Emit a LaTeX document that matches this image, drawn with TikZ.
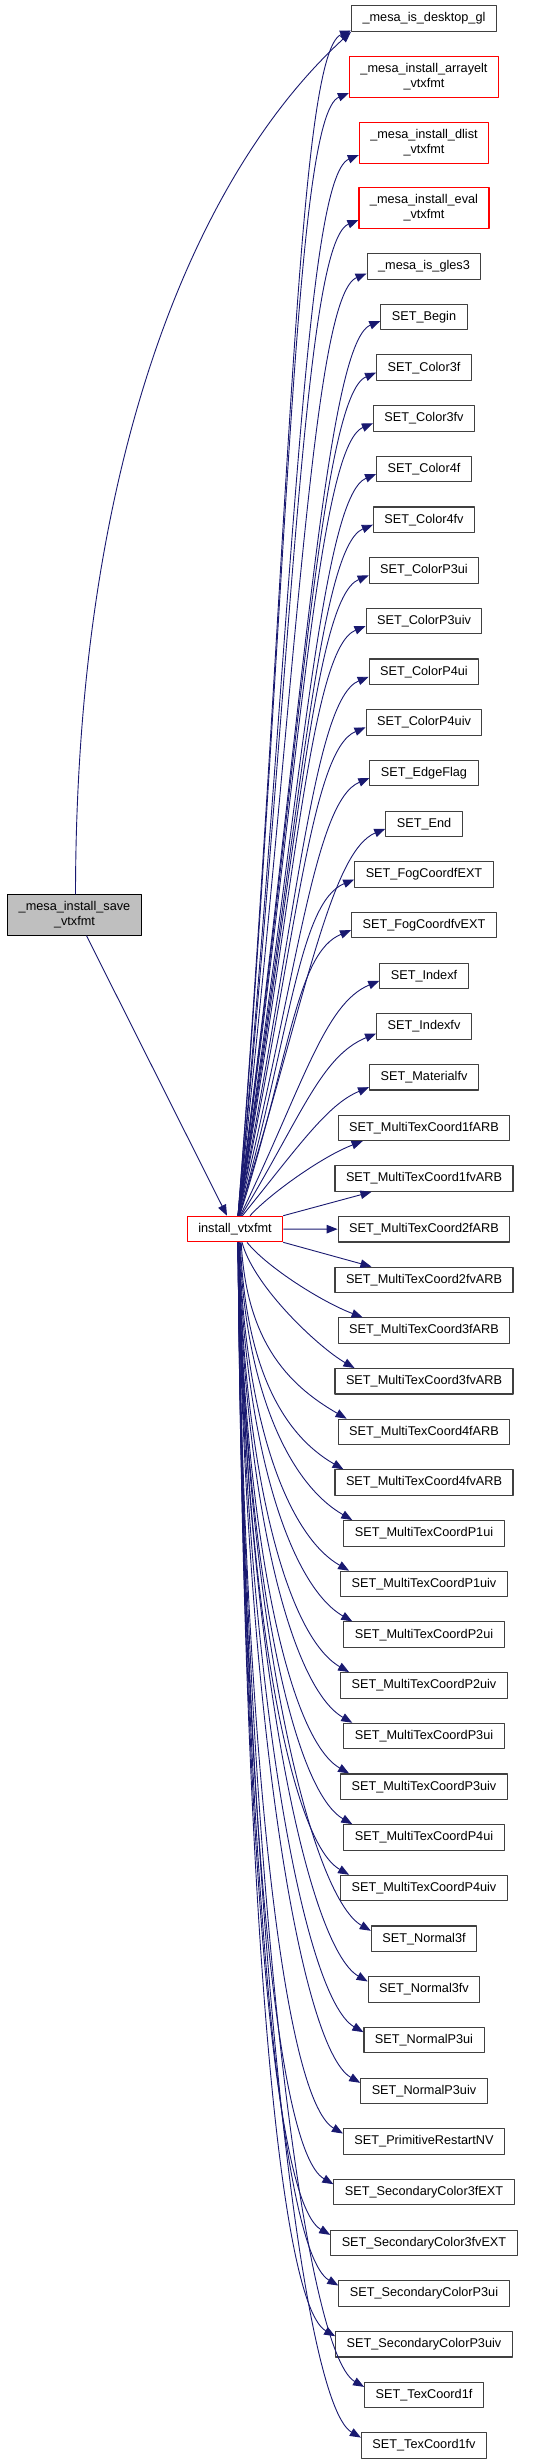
\documentclass[tikz,border=0pt]{standalone}
\usepackage{fontspec}
\setmainfont{Liberation Sans}
\usetikzlibrary{arrows.meta,calc}
\definecolor{CallNavy}{HTML}{191970}
\definecolor{BoxInk}{HTML}{404040}
\definecolor{RootGray}{HTML}{BFBFBF}
\definecolor{LinkRed}{HTML}{FF0000}

\begin{document}
\begin{tikzpicture}[
  x=1pt,y=1pt,
  >={Triangle[length=11pt,width=8.5pt]},
  line join=round,
  every node/.style={font=\fontsize{12.7}{15}\selectfont,text=black},
  fnbox/.style={draw=BoxInk,line width=1.1pt,fill=white,inner xsep=11pt,
    inner ysep=6.8pt,minimum height=25.5pt,align=center},
  fnred/.style={fnbox,draw=LinkRed},
  call/.style={->,CallNavy,line width=.9pt}
]
  \useasboundingbox (0,0) rectangle (539,-2464);

  % caller and the red entry point
  \node[fnbox,fill=RootGray,draw=black] (save) at (74.5,-915)
    {\_mesa\_install\_save\\\_vtxfmt};
  \node[fnred] (install) at (235,-1229) {install\_vtxfmt};

  % callees, top group
  \node[fnbox] (n1) at (424,-18.5) {\_mesa\_is\_desktop\_gl};
  \node[fnred] (n2) at (424,-77) {\_mesa\_install\_arrayelt\\\_vtxfmt};
  \node[fnred] (n3) at (424,-143) {\_mesa\_install\_dlist\\\_vtxfmt};
  \node[fnred] (n4) at (424,-208) {\_mesa\_install\_eval\\\_vtxfmt};
  \node[fnbox] (n5) at (424,-266.5) {\_mesa\_is\_gles3};

  % callees, SET_* column
  \foreach \fname [count=\k from 6] in {SET\_Begin,SET\_Color3f,SET\_Color3fv,
      SET\_Color4f,SET\_Color4fv,SET\_ColorP3ui,SET\_ColorP3uiv,SET\_ColorP4ui,
      SET\_ColorP4uiv,SET\_EdgeFlag,SET\_End,SET\_FogCoordfEXT,SET\_FogCoordfvEXT,
      SET\_Indexf,SET\_Indexfv,SET\_Materialfv,SET\_MultiTexCoord1fARB,
      SET\_MultiTexCoord1fvARB,SET\_MultiTexCoord2fARB,SET\_MultiTexCoord2fvARB,
      SET\_MultiTexCoord3fARB,SET\_MultiTexCoord3fvARB,SET\_MultiTexCoord4fARB,
      SET\_MultiTexCoord4fvARB,SET\_MultiTexCoordP1ui,SET\_MultiTexCoordP1uiv,
      SET\_MultiTexCoordP2ui,SET\_MultiTexCoordP2uiv,SET\_MultiTexCoordP3ui,
      SET\_MultiTexCoordP3uiv,SET\_MultiTexCoordP4ui,SET\_MultiTexCoordP4uiv,
      SET\_Normal3f,SET\_Normal3fv,SET\_NormalP3ui,SET\_NormalP3uiv,
      SET\_PrimitiveRestartNV,SET\_SecondaryColor3fEXT,SET\_SecondaryColor3fvEXT,
      SET\_SecondaryColorP3ui,SET\_SecondaryColorP3uiv,SET\_TexCoord1f,
      SET\_TexCoord1fv}
    \node[fnbox] (n\k) at (424,{-317-(\k-6)*50.68}) {\fname};

  % caller edges
  \draw[call] ($(save.north)+(1,0)$) .. controls (76,-450) and (200,-170)
    .. (n1.south west);
  \draw[call] ($(save.south)+(12,0)$) -- ($(install.north)+(-8,0)$);

  % edges going up
  \foreach \k/\dy in {1/-12,2/-16,3/-12,4/-12,5/-7,6/-4,7/-5,8/-5,9/-5,10/-5,
      11/-5,12/-5,13/-5,14/-5,15/-5,16/-5,17/-5,18/-5,19/-5,20/-7,21/-10} {
    \pgfmathsetmacro{\sx}{3+12*exp(-abs(\k-24)/3)}
    \draw[call] let \p1=($(install.north)+(\sx,0)$),
        \p2=($(n\k.west)+(0,\dy)$), \n1={min(60,0.35*(\y2-\y1))} in
      (\p1) .. controls ({\x1+0.45*(\x2-\x1)},{\y1+0.55*(\y2-\y1)})
      and ({\x2-0.92*\n1},{\y2-0.38*\n1}) .. (\p2);
  }

  % the near ones
  \draw[call] ($(install.north)+(15,0)$) .. controls +(20,22) and +(-40,-15)
    .. ($(n22.south west)+(25,0)$);
  \draw[call] (install.north east) -- ($(n23.south west)+(37,0)$);
  \draw[call] (install) -- (n24);
  \draw[call] (install.south east) -- ($(n25.north west)+(37,0)$);
  \draw[call] ($(install.south)+(12,0)$) .. controls +(20,-25) and +(-40,15)
    .. ($(n26.north west)+(25,0)$);
  \draw[call] ($(install.south)+(7,0)$) .. controls +(12,-45) and +(-35,20)
    .. ($(n27.north west)+(20,0)$);

  % edges going down
  \foreach \k in {28,...,48} {
    \pgfmathsetmacro{\sx}{3+12*exp(-abs(\k-24)/3)}
    \ifnum\k<38
      \coordinate (tip) at ($(n\k.north west)+(9,0)$);
    \else
      \coordinate (tip) at ($(n\k.west)+(0,8)$);
    \fi
    \draw[call] let \p1=($(install.south)+(\sx,0)$),
        \p2=(tip), \n1={min(70,0.4*(\y1-\y2))} in
      (\p1) .. controls ({\x1+0.05*(\x2-\x1)},{\y1+0.55*(\y2-\y1)})
      and ({\x2-0.87*\n1},{\y2+0.5*\n1}) .. (\p2);
  }
\end{tikzpicture}
\end{document}
